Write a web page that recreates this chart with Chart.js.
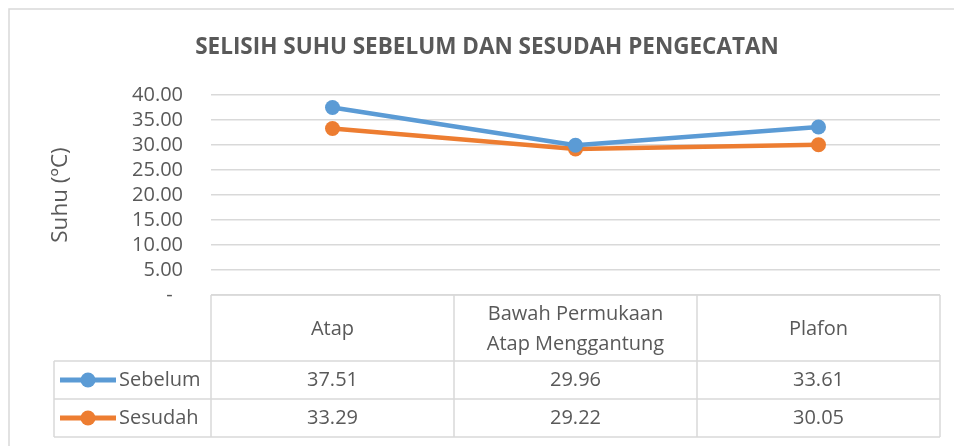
<!DOCTYPE html>
<html>
<head>
<meta charset="utf-8">
<script src="https://cdn.jsdelivr.net/npm/chart.js@4.4.0/dist/chart.umd.min.js"></script>
<style>
  html, body { margin: 0; padding: 0; background: #fff; }
  #wrap { width: 954px; height: 446px; }
</style>
</head>
<body>
<div id="wrap"><canvas id="suhuChart" width="954" height="446"></canvas></div>
<script>
// data
const categories = ["Atap", ["Bawah Permukaan", "Atap Menggantung"], "Plafon"];
const sebelum = [37.51, 29.96, 33.61];
const sesudah = [33.29, 29.22, 30.05];
const seriesNames = ["Sebelum", "Sesudah"];
const seriesColors = ["#5B9BD5", "#ED7D31"];

const textColor = "#595959";
const lineGray = "#D9D9D9";
const fontFamily = "'Open Sans', 'Noto Sans', sans-serif";

// outer frame + data table below the plot
const tablePlugin = {
    id: "dataTable",
    beforeDraw(chart) {
        let ctx = chart.ctx;
        ctx.save();
        ctx.strokeStyle = lineGray;
        ctx.lineWidth = 1.5;
        ctx.beginPath();
        ctx.moveTo(9, 470);
        ctx.lineTo(9, 9);
        ctx.lineTo(970, 9);
        ctx.stroke();
        ctx.restore();
    },
    afterDraw(chart) {
        let ctx = chart.ctx;
        let x = chart.scales.x;
        let area = chart.chartArea;
        let half = (x.getPixelForValue(1) - x.getPixelForValue(0)) / 2;
        let top = area.bottom;
        let headerH = 66, rowH = 38;
        let leftCol = area.left - 157;
        let right = x.getPixelForValue(categories.length - 1) + half;
        let rows = [sebelum, sesudah];

        ctx.save();
        ctx.strokeStyle = lineGray;
        ctx.lineWidth = 1.5;
        ctx.beginPath();
        // vertical lines of category columns
        for (let i = 0; i <= categories.length; i++) {
            let px = x.getPixelForValue(0) - half + i * half * 2;
            ctx.moveTo(px, top);
            ctx.lineTo(px, top + headerH + rowH * rows.length);
        }
        // horizontal lines
        ctx.moveTo(area.left, top);
        ctx.lineTo(right, top);
        for (let r = 0; r <= rows.length; r++) {
            let py = top + headerH + r * rowH;
            ctx.moveTo(leftCol, py);
            ctx.lineTo(right, py);
        }
        ctx.moveTo(leftCol, top + headerH);
        ctx.lineTo(leftCol, top + headerH + rowH * rows.length);
        ctx.stroke();

        ctx.fillStyle = textColor;
        ctx.font = "20px " + fontFamily;
        ctx.textAlign = "center";
        ctx.textBaseline = "middle";
        // header labels
        categories.forEach((c, i) => {
            let cx = x.getPixelForValue(i);
            let lines = Array.isArray(c) ? c : [c];
            lines.forEach((t, j) => {
                ctx.fillText(t, cx, top + headerH / 2 + 1 + (j - (lines.length - 1) / 2) * 30);
            });
        });
        // value rows
        rows.forEach((vals, r) => {
            let cy = top + headerH + r * rowH + rowH / 2;
            vals.forEach((v, i) => {
                ctx.fillText(v.toFixed(2), x.getPixelForValue(i), cy);
            });
            // legend key
            ctx.strokeStyle = seriesColors[r];
            ctx.lineWidth = 5;
            ctx.beginPath();
            ctx.moveTo(leftCol + 6, cy);
            ctx.lineTo(leftCol + 62, cy);
            ctx.stroke();
            ctx.fillStyle = seriesColors[r];
            ctx.beginPath();
            ctx.arc(leftCol + 34, cy, 7.5, 0, Math.PI * 2);
            ctx.fill();
            ctx.fillStyle = textColor;
            ctx.textAlign = "left";
            ctx.fillText(seriesNames[r], leftCol + 65, cy);
            ctx.textAlign = "center";
        });
        ctx.restore();
    }
};

new Chart(document.getElementById("suhuChart"), {
    type: "line",
    data: {
        labels: categories,
        datasets: [
            {
                label: seriesNames[0],
                data: sebelum,
                borderColor: seriesColors[0],
                backgroundColor: seriesColors[0],
                borderWidth: 4.5,
                pointRadius: 7.5,
                pointBorderWidth: 0,
                tension: 0
            },
            {
                label: seriesNames[1],
                data: sesudah,
                borderColor: seriesColors[1],
                backgroundColor: seriesColors[1],
                borderWidth: 4.5,
                pointRadius: 7.5,
                pointBorderWidth: 0,
                tension: 0
            }
        ]
    },
    options: {
        responsive: false,
        animation: false,
        layout: { padding: { left: 34, right: 14, top: 0, bottom: 151 } },
        plugins: {
            legend: { display: false },
            tooltip: { enabled: false },
            title: {
                display: true,
                text: "SELISIH SUHU SEBELUM DAN SESUDAH PENGECATAN",
                color: textColor,
                font: { family: fontFamily, size: 22.5, weight: "bold" },
                padding: { top: 34, bottom: 34 }
            }
        },
        scales: {
            x: {
                display: false,
                offset: true
            },
            y: {
                min: 0,
                max: 40,
                afterFit(scale) { scale.width = 177; },
                border: { display: false },
                grid: { color: lineGray, lineWidth: 1.5, drawTicks: false },
                ticks: {
                    stepSize: 5,
                    autoSkip: false,
                    padding: 28,
                    color: textColor,
                    font: { family: fontFamily, size: 20 },
                    callback: v => v === 0 ? "-  " : v.toFixed(2)
                },
                title: {
                    display: true,
                    text: "Suhu (ºC)",
                    color: textColor,
                    font: { family: fontFamily, size: 22.5 },
                    padding: { top: 13, bottom: 0 }
                }
            }
        }
    },
    plugins: [tablePlugin]
});
</script>
</body>
</html>
